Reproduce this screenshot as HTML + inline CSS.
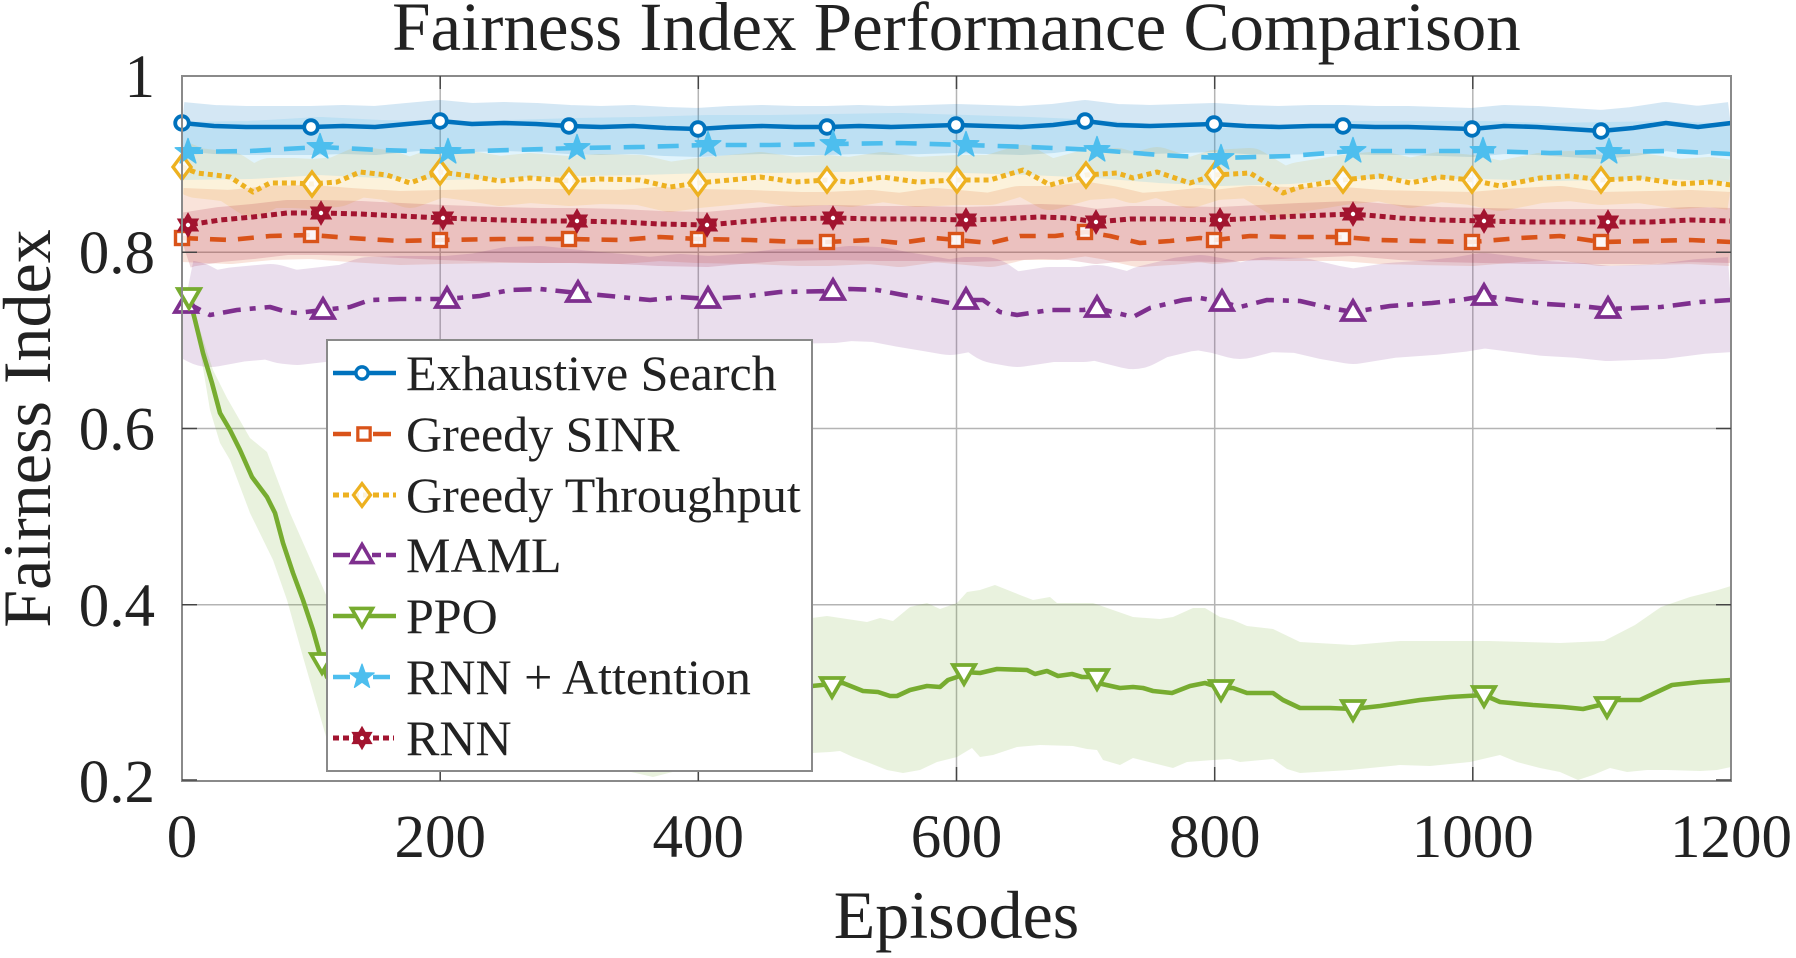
<!DOCTYPE html>
<html>
<head>
<meta charset="utf-8">
<style>
html,body{margin:0;padding:0;background:#fff;}
svg{display:block;}
text{font-family:"Liberation Serif","Times New Roman",serif;fill:#222;}
</style>
</head>
<body>
<svg width="1796" height="958" viewBox="0 0 1796 958" xmlns="http://www.w3.org/2000/svg">
<defs>
  <clipPath id="plot"><rect x="182" y="76" width="1549" height="705"/></clipPath>
  <path id="pB" d="M182,123 L214,126 L246,127 L278,127 L311,127 L343,126 L375,127 L407,124 L440,121 L472,124 L504,123 L536,124 L569,126 L601,127 L633,126 L666,128 L698,129 L730,127 L762,126 L795,127 L827,127 L859,126 L891,127 L924,126 L956,125 L988,126 L1021,127 L1053,125 L1085,121 L1117,125 L1150,126 L1182,125 L1214,124 L1246,126 L1279,127 L1311,126 L1343,126 L1375,127 L1408,127 L1440,128 L1472,129 L1504,126 L1537,127 L1569,129 L1601,131 L1633,128 L1666,123 L1698,127 L1731,123"/>
  <path id="pC" d="M182,152 L250,151 L320,147 L380,150 L448,152 L510,150 L577,148 L640,147 L708,145 L770,145 L833,144 L900,143 L966,145 L1030,147 L1097,150 L1160,155 L1221,158 L1290,156 L1353,151 L1420,151 L1483,151 L1550,153 L1609,152 L1670,151 L1731,154"/>
  <path id="pY" d="M182,167 L197,173 L215,175 L230,177 L253,192 L270,183 L293,183 L312,184 L337,182 L360,172 L387,175 L410,183 L440,172 L470,176 L500,181 L530,178 L569,181 L600,179 L640,180 L670,187 L698,183 L730,180 L760,177 L795,182 L827,180 L850,182 L883,177 L917,182 L957,180 L990,180 L1023,170 L1050,185 L1086,175 L1117,173 L1133,178 L1157,172 L1190,183 L1215,175 L1250,173 L1283,193 L1300,187 L1343,180 L1380,176 L1410,183 L1440,177 L1472,180 L1500,186 L1540,178 L1570,176 L1601,180 L1640,178 L1680,184 L1710,182 L1731,185"/>
  <path id="pO" d="M182,238 L230,240 L270,236 L311,235 L350,238 L400,241 L440,240 L500,239 L569,239 L620,240 L660,237 L698,239 L750,240 L800,242 L827,242 L870,240 L900,243 L935,238 L957,240 L990,243 L1020,236 L1055,236 L1086,232 L1110,236 L1140,243 L1170,241 L1200,238 L1215,240 L1250,236 L1290,237 L1343,237 L1380,240 L1420,241 L1472,242 L1520,238 L1560,236 L1601,242 L1650,241 L1690,240 L1731,242"/>
  <path id="pR" d="M182,227 L188,225 L220,220 L253,217 L287,213 L321,213 L360,214 L400,216 L443,218 L500,220 L540,221 L577,221 L620,222 L660,224 L707,225 L740,222 L780,219 L833,218 L880,219 L920,219 L966,220 L1000,219 L1040,217 L1070,218 L1096,222 L1130,219 L1170,219 L1220,220 L1260,218 L1300,216 L1353,214 L1400,218 L1440,220 L1484,221 L1530,222 L1570,222 L1608,222 L1650,222 L1690,220 L1731,221"/>
  <path id="pM" d="M184,303 L189,304 L210,315 L237,310 L270,307 L287,312 L297,313 L323,310 L350,307 L370,300 L400,299 L447,299 L480,296 L510,290 L540,289 L578,293 L610,296 L650,300 L680,297 L708,299 L740,297 L780,292 L833,291 L850,289 L877,290 L903,295 L933,300 L950,303 L966,300 L983,300 L1000,312 L1017,315 L1050,310 L1083,310 L1097,308 L1133,317 L1150,308 L1183,300 L1200,298 L1222,302 L1240,307 L1267,300 L1300,301 L1330,308 L1353,312 L1390,306 L1432,303 L1460,300 L1484,296 L1515,300 L1546,304 L1580,306 L1608,309 L1635,308 L1661,307 L1700,302 L1731,300"/>
  <path id="pP" d="M184,290 L189,297 L195,320 L203,353 L212,383 L220,413 L230,430 L240,450 L252,477 L267,497 L275,513 L283,543 L293,573 L303,600 L313,630 L322,662 L327,677 L340,690 L400,700 L500,705 L600,702 L700,705 L812,686 L832,684 L843,683 L863,691 L878,692 L890,696 L897,696 L910,690 L927,686 L940,687 L948,680 L957,677 L964,672 L980,673 L997,669 L1027,670 L1035,674 L1047,671 L1058,676 L1072,674 L1082,677 L1097,677 L1102,684 L1120,688 L1133,687 L1143,688 L1153,691 L1172,693 L1190,686 L1205,683 L1221,688 L1233,688 L1247,693 L1273,693 L1283,700 L1300,708 L1330,708 L1353,709 L1380,706 L1420,700 L1450,697 L1484,695 L1500,702 L1533,705 L1563,707 L1583,709 L1600,705 L1607,707 L1617,700 L1640,700 L1672,685 L1700,682 L1731,680"/>

  <circle id="mC" r="6.8" fill="#fff" stroke="#0072BD" stroke-width="3.8"/>
  <rect id="mS" x="-6.5" y="-6.5" width="13" height="13" fill="#fff" fill-opacity="0.85" stroke="#D95319" stroke-width="3.4"/>
  <path id="mD" d="M0,-12 L9,0 L0,12 L-9,0Z" fill="#fff" fill-opacity="0.85" stroke="#EDB120" stroke-width="3.4"/>
  <path id="mT" d="M0,-11 L11,8 L-11,8Z" fill="#fff" stroke="#7E2F8E" stroke-width="3.8"/>
  <path id="mV" d="M-11,-8 L11,-8 L0,11Z" fill="#fff" stroke="#77AC30" stroke-width="3.8"/>
  <path id="mP" d="M0,-13.5 L3.2,-4.4 L12.8,-4.2 L5.1,1.7 L7.9,10.9 L0,5.4 L-7.9,10.9 L-5.1,1.7 L-12.8,-4.2 L-3.2,-4.4Z" fill="#4DBEEE" stroke="#4DBEEE" stroke-width="1.4" stroke-linejoin="round"/>
  <g id="mH">
    <path d="M0,-11.5 L10,5.75 L-10,5.75Z" fill="#A2142F" stroke="#A2142F" stroke-width="1.4"/>
    <path d="M0,11.5 L10,-5.75 L-10,-5.75Z" fill="#A2142F" stroke="#A2142F" stroke-width="1.4"/>
    <circle r="2.2" fill="#fff"/>
  </g>
</defs>

<rect x="0" y="0" width="1796" height="958" fill="#fff"/>

<!-- grid -->
<g stroke="#b4b4b4" stroke-width="1.5">
  <line x1="440.2" y1="76" x2="440.2" y2="781"/>
  <line x1="698.3" y1="76" x2="698.3" y2="781"/>
  <line x1="956.5" y1="76" x2="956.5" y2="781"/>
  <line x1="1214.7" y1="76" x2="1214.7" y2="781"/>
  <line x1="1472.8" y1="76" x2="1472.8" y2="781"/>
  <line x1="182" y1="252.25" x2="1731" y2="252.25"/>
  <line x1="182" y1="428.5" x2="1731" y2="428.5"/>
  <line x1="182" y1="604.75" x2="1731" y2="604.75"/>
</g>

<!-- bands -->
<g clip-path="url(#plot)" fill="none" stroke-linejoin="round" stroke-linecap="butt">
  <use href="#pB" transform="translate(0,3.5)" stroke="#0072BD" stroke-opacity="0.17" stroke-width="49"/>
  <use href="#pO" transform="translate(0,-13)" stroke="#D95319" stroke-opacity="0.16" stroke-width="74"/>
  <use href="#pY" stroke="#EDB120" stroke-opacity="0.16" stroke-width="50"/>
  <use href="#pM" transform="translate(0,4.5)" stroke="#7E2F8E" stroke-opacity="0.16" stroke-width="95"/>
  <path d="M184,288 L190,295 L200,330 L213,370 L227,398 L250,438 L267,452 L290,513 L327,597 L400,610 L600,615 L812,618 L827,616 L867,622 L880,618 L893,621 L910,607 L927,603 L940,609 L957,603 L967,592 L980,590 L995,585 L1020,595 L1033,600 L1050,597 L1057,603 L1093,603 L1113,610 L1133,617 L1160,619 L1173,617 L1193,608 L1205,608 L1220,617 L1233,620 L1247,626 L1273,629 L1300,642 L1353,645 L1400,641 L1489,641 L1560,643 L1604,641 L1635,625 L1661,607 L1690,597 L1718,590 L1731,586 L1731,767 L1717,770 L1700,771 L1667,770 L1647,770 L1627,772 L1610,768 L1593,775 L1578,780 L1560,772 L1540,768 L1517,762 L1500,755 L1470,762 L1430,766 L1400,765 L1350,770 L1300,773 L1287,769 L1273,759 L1240,762 L1230,759 L1213,760 L1187,762 L1173,768 L1153,763 L1133,758 L1120,765 L1103,760 L1097,750 L1087,749 L1073,746 L1040,745 L1017,747 L993,755 L980,757 L972,748 L957,757 L937,762 L920,770 L903,773 L887,770 L867,762 L853,757 L840,751 L830,752 L812,753 L700,765 L653,777 L600,765 L400,765 L330,770 L327,740 L303,657 L287,600 L273,560 L250,513 L230,460 L220,443 L210,410 L195,320 L184,300 Z" fill="#77AC30" fill-opacity="0.16" stroke="none"/>
  <use href="#pC" transform="translate(0,-1)" stroke="#4DBEEE" stroke-opacity="0.17" stroke-width="58"/>
  <use href="#pR" transform="translate(0,14.5)" stroke="#A2142F" stroke-opacity="0.16" stroke-width="55"/>
</g>

<!-- lines -->
<g clip-path="url(#plot)" fill="none" stroke-linejoin="round">
  <use href="#pB" stroke="#0072BD" stroke-width="4.6"/>
  <use href="#pO" stroke="#D95319" stroke-width="4.6" stroke-dasharray="16 12"/>
  <use href="#pY" stroke="#EDB120" stroke-width="5" stroke-dasharray="5 4"/>
  <use href="#pM" stroke="#7E2F8E" stroke-width="4.6" stroke-dasharray="18 9 6 9"/>
  <use href="#pP" stroke="#77AC30" stroke-width="4.6"/>
  <use href="#pC" stroke="#4DBEEE" stroke-width="4.6" stroke-dasharray="21 13"/>
  <use href="#pR" stroke="#A2142F" stroke-width="5" stroke-dasharray="6 4"/>
</g>

<!-- markers -->
<g>
  <use href="#mC" x="182" y="123"/><use href="#mC" x="311" y="127"/><use href="#mC" x="440" y="121"/><use href="#mC" x="569" y="126"/><use href="#mC" x="698" y="129"/><use href="#mC" x="827" y="127"/><use href="#mC" x="956" y="125"/><use href="#mC" x="1085" y="121"/><use href="#mC" x="1214" y="124"/><use href="#mC" x="1343" y="126"/><use href="#mC" x="1472" y="129"/><use href="#mC" x="1601" y="131"/>

  <use href="#mS" x="182" y="238"/><use href="#mS" x="311" y="235"/><use href="#mS" x="440" y="240"/><use href="#mS" x="569" y="239"/><use href="#mS" x="698" y="239"/><use href="#mS" x="827" y="242"/><use href="#mS" x="956" y="240"/><use href="#mS" x="1085" y="232"/><use href="#mS" x="1214" y="240"/><use href="#mS" x="1343" y="237"/><use href="#mS" x="1472" y="242"/><use href="#mS" x="1601" y="242"/>

  <use href="#mD" x="182" y="167"/><use href="#mD" x="312" y="184"/><use href="#mD" x="440" y="172"/><use href="#mD" x="569" y="181"/><use href="#mD" x="698" y="183"/><use href="#mD" x="827" y="180"/><use href="#mD" x="957" y="180"/><use href="#mD" x="1086" y="175"/><use href="#mD" x="1215" y="175"/><use href="#mD" x="1343" y="180"/><use href="#mD" x="1472" y="180"/><use href="#mD" x="1601" y="180"/>

  <use href="#mT" x="186" y="304"/><use href="#mT" x="323" y="310"/><use href="#mT" x="447" y="299"/><use href="#mT" x="578" y="293"/><use href="#mT" x="708" y="299"/><use href="#mT" x="833" y="291"/><use href="#mT" x="966" y="300"/><use href="#mT" x="1097" y="308"/><use href="#mT" x="1222" y="302"/><use href="#mT" x="1353" y="312"/><use href="#mT" x="1484" y="296"/><use href="#mT" x="1608" y="309"/>

  <use href="#mV" x="189" y="297"/><use href="#mV" x="322" y="662"/><use href="#mV" x="832" y="686"/><use href="#mV" x="964" y="673"/><use href="#mV" x="1097" y="678"/><use href="#mV" x="1221" y="689"/><use href="#mV" x="1353" y="709"/><use href="#mV" x="1484" y="695"/><use href="#mV" x="1607" y="706"/>

  <use href="#mP" x="188" y="152"/><use href="#mP" x="320" y="147"/><use href="#mP" x="448" y="152"/><use href="#mP" x="577" y="148"/><use href="#mP" x="708" y="145"/><use href="#mP" x="833" y="144"/><use href="#mP" x="966" y="145"/><use href="#mP" x="1097" y="150"/><use href="#mP" x="1221" y="158"/><use href="#mP" x="1353" y="151"/><use href="#mP" x="1483" y="151"/><use href="#mP" x="1609" y="152"/>

  <use href="#mH" x="188" y="225"/><use href="#mH" x="321" y="213"/><use href="#mH" x="443" y="218"/><use href="#mH" x="577" y="221"/><use href="#mH" x="707" y="225"/><use href="#mH" x="833" y="218"/><use href="#mH" x="966" y="220"/><use href="#mH" x="1096" y="222"/><use href="#mH" x="1220" y="220"/><use href="#mH" x="1353" y="214"/><use href="#mH" x="1484" y="221"/><use href="#mH" x="1608" y="222"/>
</g>

<!-- axes box and ticks -->
<rect x="182" y="76" width="1549" height="705" fill="none" stroke="#8a8a8a" stroke-width="2"/>
<g stroke="#444" stroke-width="1.5">
  <line x1="440.2" y1="781" x2="440.2" y2="767"/><line x1="698.3" y1="781" x2="698.3" y2="767"/><line x1="956.5" y1="781" x2="956.5" y2="767"/><line x1="1214.7" y1="781" x2="1214.7" y2="767"/><line x1="1472.8" y1="781" x2="1472.8" y2="767"/>
  <line x1="440.2" y1="76" x2="440.2" y2="89"/><line x1="698.3" y1="76" x2="698.3" y2="89"/><line x1="956.5" y1="76" x2="956.5" y2="89"/><line x1="1214.7" y1="76" x2="1214.7" y2="89"/><line x1="1472.8" y1="76" x2="1472.8" y2="89"/>
  <line x1="182" y1="252.25" x2="197" y2="252.25"/><line x1="182" y1="428.5" x2="197" y2="428.5"/><line x1="182" y1="604.75" x2="197" y2="604.75"/><line x1="182" y1="780" x2="197" y2="780"/>
  <line x1="1731" y1="252.25" x2="1716" y2="252.25"/><line x1="1731" y1="428.5" x2="1716" y2="428.5"/><line x1="1731" y1="604.75" x2="1716" y2="604.75"/><line x1="1731" y1="780" x2="1716" y2="780"/>
</g>

<!-- legend -->
<rect x="327" y="340" width="485" height="431" fill="#fff" stroke="#8a8a8a" stroke-width="2"/>
<g fill="none" stroke-width="4.5">
  <line x1="333" y1="373" x2="396" y2="373" stroke="#0072BD"/>
  <path d="M333,434 H351 M373,434 H391" stroke="#D95319"/>
  <line x1="333" y1="495" x2="396" y2="495" stroke="#EDB120" stroke-dasharray="6 4" stroke-width="5"/>
  <path d="M333,555 H350 M372,555 H381 M386,555 H396" stroke="#7E2F8E"/>
  <line x1="333" y1="616" x2="396" y2="616" stroke="#77AC30"/>
  <path d="M333,677 H350 M373,677 H390" stroke="#4DBEEE"/>
  <line x1="333" y1="738" x2="394" y2="738" stroke="#A2142F" stroke-dasharray="6 4" stroke-width="5"/>
</g>
<use href="#mC" transform="translate(362,373) scale(0.9)"/>
<use href="#mS" transform="translate(364,434) scale(0.95)"/>
<use href="#mD" transform="translate(362,495) scale(0.95)"/>
<use href="#mT" transform="translate(362,555) scale(0.95)"/>
<use href="#mV" transform="translate(362,616) scale(0.95)"/>
<use href="#mP" transform="translate(362,677) scale(0.95)"/>
<use href="#mH" transform="translate(362,738) scale(0.95)"/>
<g font-size="50">
  <text x="406" y="390">Exhaustive Search</text>
  <text x="406" y="451">Greedy SINR</text>
  <text x="406" y="512">Greedy Throughput</text>
  <text x="406" y="572">MAML</text>
  <text x="406" y="633">PPO</text>
  <text x="406" y="694">RNN + Attention</text>
  <text x="406" y="755">RNN</text>
</g>

<!-- tick labels -->
<g font-size="61" text-anchor="middle">
  <text x="182" y="857">0</text>
  <text x="440.2" y="857">200</text>
  <text x="698.3" y="857">400</text>
  <text x="956.5" y="857">600</text>
  <text x="1214.7" y="857">800</text>
  <text x="1472.8" y="857">1000</text>
  <text x="1731" y="857">1200</text>
</g>
<g font-size="61" text-anchor="end">
  <text x="155" y="97">1</text>
  <text x="155" y="273">0.8</text>
  <text x="155" y="449.5">0.6</text>
  <text x="155" y="625.75">0.4</text>
  <text x="155" y="802">0.2</text>
</g>

<!-- titles -->
<text x="956.5" y="50" font-size="69" text-anchor="middle">Fairness Index Performance Comparison</text>
<text x="956.5" y="938" font-size="68" text-anchor="middle">Episodes</text>
<text transform="translate(50,428.5) rotate(-90)" font-size="68" text-anchor="middle">Fairness Index</text>
</svg>
</body>
</html>
